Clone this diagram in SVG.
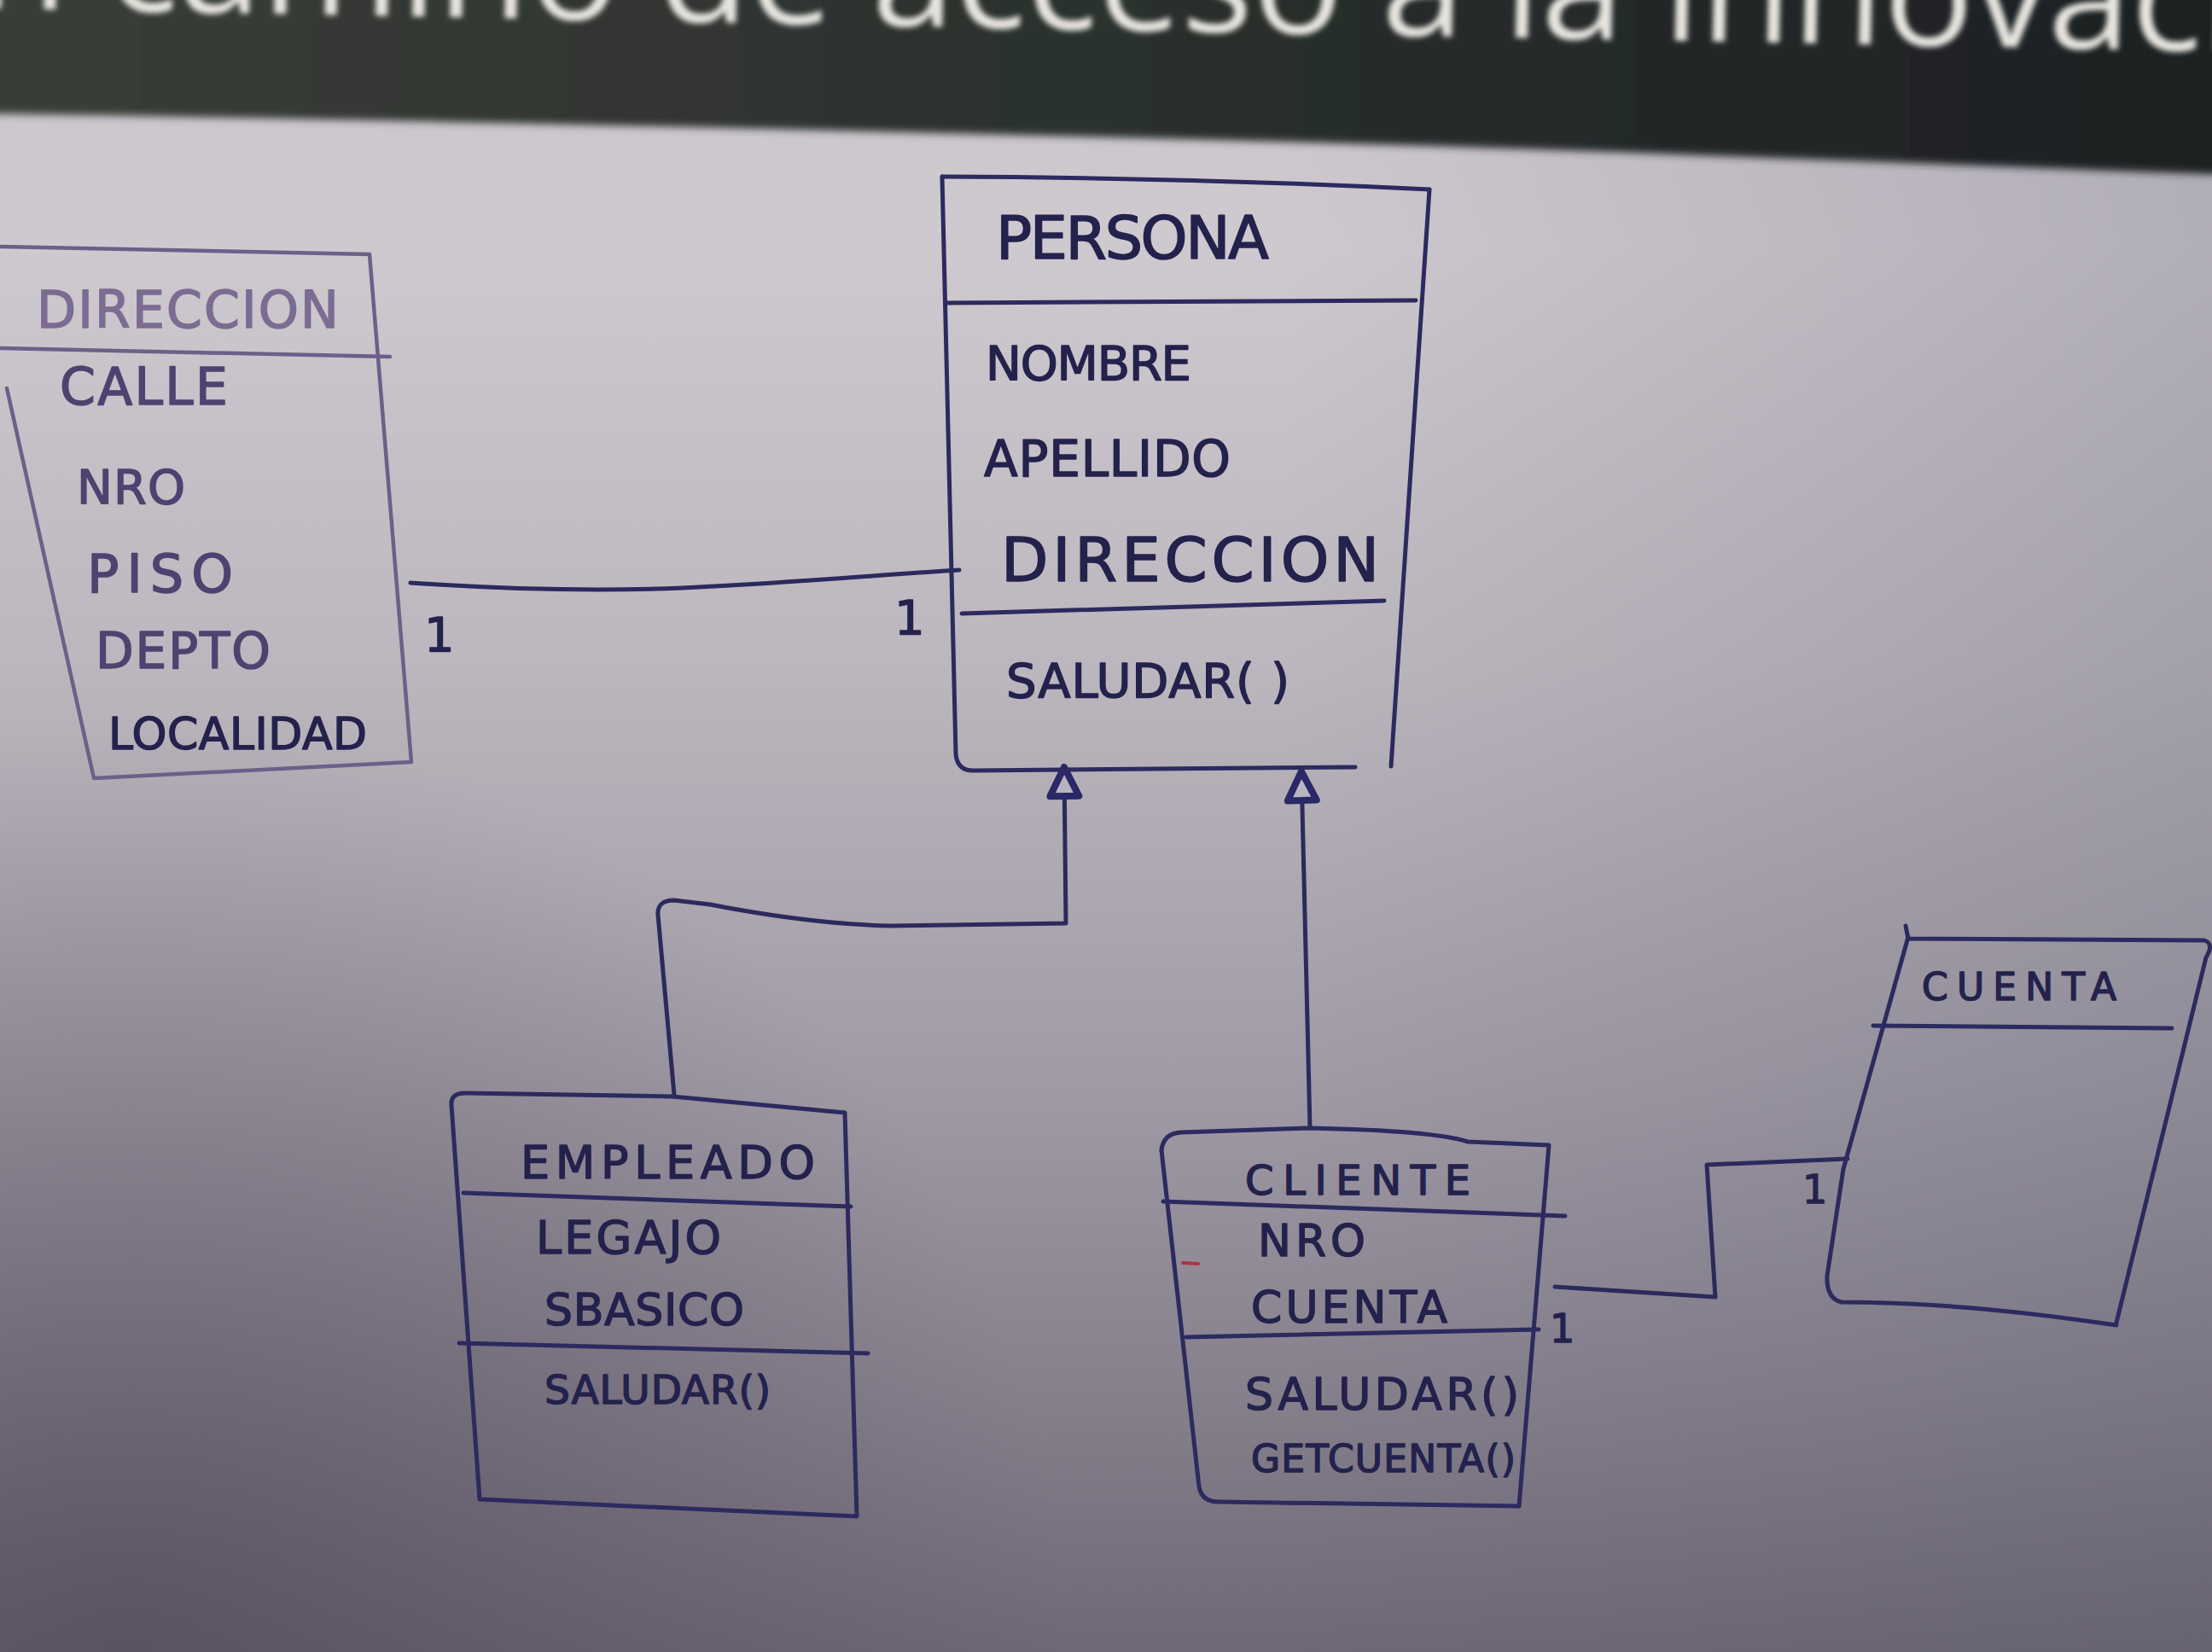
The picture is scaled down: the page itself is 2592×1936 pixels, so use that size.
<svg xmlns="http://www.w3.org/2000/svg" width="2592" height="1936" viewBox="0 0 2592 1936">
<defs>
<linearGradient id="board" x1="0" y1="0" x2="0" y2="1936" gradientUnits="userSpaceOnUse">
<stop offset="0" stop-color="#cbc6cc"/>
<stop offset="0.15" stop-color="#cec9cf"/>
<stop offset="0.4" stop-color="#bcb7be"/>
<stop offset="0.65" stop-color="#a09ba6"/>
<stop offset="0.85" stop-color="#857f8c"/>
<stop offset="1" stop-color="#6e6876"/>
</linearGradient>
<radialGradient id="vigBL" cx="150" cy="1936" r="1100" gradientUnits="userSpaceOnUse">
<stop offset="0" stop-color="#4a4052" stop-opacity="0.55"/>
<stop offset="1" stop-color="#4a4052" stop-opacity="0"/>
</radialGradient>
<linearGradient id="vigR" x1="1500" y1="0" x2="2592" y2="0" gradientUnits="userSpaceOnUse">
<stop offset="0" stop-color="#505066" stop-opacity="0"/>
<stop offset="1" stop-color="#505066" stop-opacity="0.22"/>
</linearGradient>
<linearGradient id="band" x1="0" y1="0" x2="2592" y2="0" gradientUnits="userSpaceOnUse">
<stop offset="0" stop-color="#383d37"/>
<stop offset="0.5" stop-color="#2b302d"/>
<stop offset="1" stop-color="#1c2023"/>
</linearGradient>
<filter id="soft" x="-5%" y="-20%" width="110%" height="150%">
<feGaussianBlur stdDeviation="5"/>
</filter>
<filter id="softer" x="-5%" y="-50%" width="110%" height="200%">
<feGaussianBlur stdDeviation="3"/>
</filter>
<marker id="tri" markerUnits="userSpaceOnUse" markerWidth="44" markerHeight="44" viewBox="0 0 44 44" refX="40" refY="22" orient="auto">
<path d="M6,5 L40,22 L6,39 Z" fill="#b9b5c0" stroke="#2a2866" stroke-width="8" stroke-linejoin="round"/>
</marker>
</defs>
<style>
.ink{fill:none;stroke:#2c2a5e;stroke-width:5;stroke-linecap:round;stroke-linejoin:round}
.faint{stroke:#6e5f88;stroke-width:4.5}
.t{font-family:"DejaVu Sans","Liberation Sans",sans-serif;fill:#24224c;stroke:#24224c;stroke-width:1.5;stroke-linejoin:round}
.tf{fill:#7c6c92;stroke:#7c6c92}
.tm{fill:#4e4370;stroke:#4e4370}
.conn{fill:none;stroke:#2c2a5c;stroke-width:5;stroke-linecap:round;stroke-linejoin:round}
</style>

<!-- background board -->
<rect x="0" y="0" width="2592" height="1936" fill="url(#board)"/>
<rect x="0" y="0" width="2592" height="1936" fill="url(#vigBL)"/>
<rect x="0" y="0" width="2592" height="1936" fill="url(#vigR)"/>

<!-- dark slide band at top -->
<path d="M-20,-20 L2612,-20 L2612,205 C2250,192 1850,175 1500,166 C1000,153 500,141 -20,133 Z" fill="url(#band)" filter="url(#soft)"/>
<text x="-155" y="10" transform="rotate(1.1)" font-family="'Open Sans','Liberation Sans',sans-serif" font-size="175" fill="#e6e4de" filter="url(#softer)">Un camino de acceso a la innovación</text>

<!-- connectors -->
<g id="connectors">
<path id="assoc-persona-direccion" class="conn" d="M481,683 C600,691 700,693 800,689 C950,682 1050,672 1124,668"/>
<path id="gen-empleado-persona" class="conn" marker-end="url(#tri)" d="M790,1283 L771,1072 Q770,1055 790,1055 L832,1060 Q950,1083 1044,1085 L1249,1082 L1247,899"/>
<path id="gen-cliente-persona" class="conn" stroke-width="6" marker-end="url(#tri)" d="M1535,1322 L1525,904"/>
<path id="assoc-cliente-cuenta" class="conn" d="M1822,1508 L2010,1520 L2000,1365 L2165,1358"/>
<text class="t" x="497" y="763" font-size="56">1</text>
<text class="t" x="1048" y="743" font-size="56">1</text>
<text class="t" x="1816" y="1573" font-size="46">1</text>
<text class="t" x="2112" y="1410" font-size="46">1</text>
</g>

<!-- PERSONA -->
<g id="node-persona">
<path class="ink" d="M1104,207 Q1390,208 1675,222"/>
<path class="ink" d="M1675,222 L1630,898"/>
<path class="ink" d="M1104,207 L1120,884 Q1122,904 1142,903 L1588,899"/>
<path class="ink" d="M1108,355 L1659,352"/>
<path class="ink" d="M1127,719 Q1380,712 1622,704"/>
<text class="t" x="1167" y="303" font-size="70" textLength="320">PERSONA</text>
<text class="t" x="1155" y="445" font-size="56" textLength="241">NOMBRE</text>
<text class="t" x="1153" y="558" font-size="58" textLength="289">APELLIDO</text>
<text class="t" x="1173" y="681" font-size="72" textLength="443">DIRECCION</text>
<text class="t" x="1179" y="817" font-size="56" textLength="332">SALUDAR( )</text>
</g>

<!-- DIRECCION -->
<g id="node-direccion">
<path class="ink faint" d="M-5,289 L433,298 L482,893 L110,912 L8,455"/>
<path class="ink faint" d="M-5,408 L457,418"/>
<text class="t tf" x="43" y="384" font-size="60" textLength="354">DIRECCION</text>
<text class="t tm" x="70" y="474" font-size="60" textLength="197">CALLE</text>
<text class="t tm" x="90" y="590" font-size="56" textLength="127">NRO</text>
<text class="t tm" x="102" y="694" font-size="62" textLength="171">PISO</text>
<text class="t tm" x="112" y="783" font-size="58" textLength="205">DEPTO</text>
<text class="t" x="127" y="878" font-size="52" textLength="303" fill="#3a3258" stroke="#3a3258">LOCALIDAD</text>
</g>

<!-- EMPLEADO -->
<g id="node-empleado">
<path class="ink" d="M529,1295 Q528,1281 545,1281 L788,1285 L990,1304 L1004,1777 L562,1757 L529,1295"/>
<path class="ink" d="M543,1398 L997,1414"/>
<path class="ink" d="M538,1574 L1017,1586"/>
<text class="t" x="610" y="1381" font-size="54" textLength="345">EMPLEADO</text>
<text class="t" x="628" y="1469" font-size="54" textLength="217">LEGAJO</text>
<text class="t" x="638" y="1553" font-size="52" textLength="234">SBASICO</text>
<text class="t" x="638" y="1645" font-size="47" textLength="265">SALUDAR()</text>
</g>

<!-- CLIENTE -->
<g id="node-cliente">
<path class="ink" d="M1361,1348 Q1363,1328 1385,1327 L1535,1322 Q1680,1325 1720,1338 L1815,1342 L1780,1765"/>
<path class="ink" d="M1361,1348 L1405,1742 Q1408,1760 1428,1760 L1780,1765"/>
<path class="ink" d="M1363,1408 L1834,1425"/>
<path class="ink" d="M1390,1567 L1803,1558"/>
<path d="M1386,1480 L1404,1481" stroke="#b03045" stroke-width="4" stroke-linecap="round"/>
<text class="t" x="1459" y="1400" font-size="48" textLength="264">CLIENTE</text>
<text class="t" x="1474" y="1472" font-size="52" textLength="126">NRO</text>
<text class="t" x="1466" y="1550" font-size="52" textLength="230">CUENTA</text>
<text class="t" x="1459" y="1652" font-size="52" textLength="321">SALUDAR()</text>
<text class="t" x="1466" y="1725" font-size="44" textLength="310">GETCUENTA()</text>
</g>

<!-- CUENTA -->
<g id="node-cuenta">
<path class="ink" stroke="#2e2a66" d="M2233,1085 L2236,1100 L2583,1102 Q2595,1106 2585,1122 L2480,1550"/>
<path class="ink" stroke="#2e2a66" d="M2236,1098 L2160,1370 L2141,1495 Q2140,1522 2158,1526 Q2300,1526 2480,1553"/>
<path class="ink" stroke="#2e2a66" d="M2195,1202 L2545,1205"/>
<text class="t" x="2252" y="1172" font-size="44" textLength="228" fill="#2a2660" stroke="#2a2660">CUENTA</text>
</g>
</svg>
